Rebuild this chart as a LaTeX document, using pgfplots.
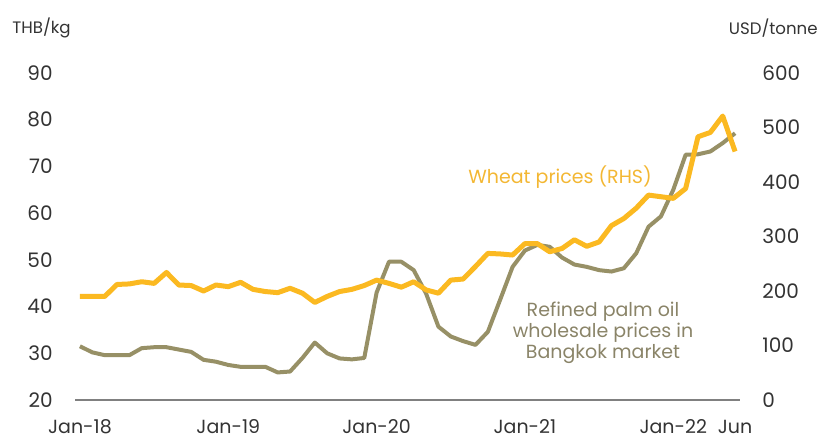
\documentclass[border=0pt]{standalone}
\usepackage{fontspec}
\setmainfont{Poppins}
\usepackage{pgfplots}
\usepackage{pgfplotstable}
\pgfplotsset{compat=1.18}
\definecolor{wheat}{HTML}{FBB921}
\definecolor{wheattxt}{HTML}{F3B733}
\definecolor{palm}{HTML}{979066}
\definecolor{palmtxt}{HTML}{8A8468}
\definecolor{ticktxt}{HTML}{333333}

\pgfplotstableread{
i v
0 31.5
1 30.2
2 29.6
3 29.6
4 29.6
5 31.1
6 31.3
7 31.3
8 30.8
9 30.3
10 28.6
11 28.2
12 27.5
13 27.1
14 27.1
15 27.1
16 25.9
17 26.1
18 29.0
19 32.3
20 30.0
21 28.9
22 28.7
23 29.0
24 43.0
25 49.6
26 49.6
27 47.8
28 42.8
29 35.7
30 33.6
31 32.6
32 31.8
33 34.6
34 41.5
35 48.5
36 52.0
37 53.2
38 52.8
39 50.5
40 49.0
41 48.5
42 47.8
43 47.5
44 48.2
45 51.4
46 57.1
47 59.3
48 65.0
49 72.5
50 72.6
51 73.2
52 75.0
53 77.1
}\palm

\pgfplotstableread{
i v
0 190
1 190
2 190
3 212
4 213
5 217
6 214
7 234
8 211
9 210
10 200
11 211
12 208
13 216
14 203
15 199
16 197
17 205
18 196
19 179
20 190
21 199
22 203
23 210
24 220
25 214
26 207
27 217
28 202
29 196
30 220
31 222
32 245
33 269
34 268
35 266
36 287
37 287
38 272
39 278
40 294
41 282
42 290
43 320
44 333
45 352
46 376
47 373
48 370
49 388
50 483
51 491
52 521
53 456
}\wheat

\begin{document}
\begin{tikzpicture}
\path[use as bounding box] (0,0) rectangle (411pt,219.5pt);
\begin{axis}[
  at={(37.5pt,19.5pt)}, anchor=south west,
  scale only axis, width=332.5pt, height=163.5pt,
  xmin=-0.4, xmax=53.4, ymin=20, ymax=90,
  axis x line*=bottom, axis y line*=left,
  y axis line style={draw=none},
  x axis line style={draw=black!50, line width=0.7pt},
  tick style={draw=none},
  xtick={0,12,24,36,48,53},
  xticklabels={Jan-18,Jan-19,Jan-20,Jan-21,Jan-22,Jun},
  ytick={20,30,...,90},
  /pgf/number format/assume math mode=true,
  xticklabel style={font=\fontsize{9.5}{11}\selectfont, text=ticktxt, inner sep=0pt, anchor=base, yshift=-16.5pt},
  yticklabel style={font=\fontsize{10}{12}\selectfont, text=ticktxt, inner sep=0pt, anchor=east, xshift=-11pt},
  clip=false,
]
\addplot[palm, line width=2pt, line join=round] table[x=i, y=v] {\palm};
\end{axis}
\begin{axis}[
  at={(37.5pt,19.5pt)}, anchor=south west,
  scale only axis, width=332.5pt, height=163.5pt,
  xmin=-0.4, xmax=53.4, ymin=0, ymax=600,
  axis x line=none, axis y line*=right,
  y axis line style={draw=none},
  tick style={draw=none},
  ytick={0,100,...,600},
  /pgf/number format/assume math mode=true,
  yticklabel style={font=\fontsize{10}{12}\selectfont, text=ticktxt, inner sep=0pt, anchor=west, xshift=11pt},
  clip=false,
]
\addplot[wheat, line width=2.5pt, line join=round] table[x=i, y=v] {\wheat};
\end{axis}
\node[anchor=west, inner sep=0pt, text=ticktxt, font=\fontsize{8.3}{10}\selectfont] at (6pt,205.5pt) {THB/kg};
\node[anchor=east, inner sep=0pt, text=ticktxt, font=\fontsize{8.3}{10}\selectfont] at (409pt,205.5pt) {USD/tonne};
\node[inner sep=0pt, text=wheattxt, font=\fontsize{9.5}{11}\selectfont] at (280pt,131pt) {Wheat prices (RHS)};
\node[inner sep=0pt, text=palmtxt, align=center, font=\fontsize{9.5}{10.4}\selectfont] at (301.5pt,53pt) {Refined palm oil\\wholesale prices in\\Bangkok market};
\end{tikzpicture}
\end{document}
